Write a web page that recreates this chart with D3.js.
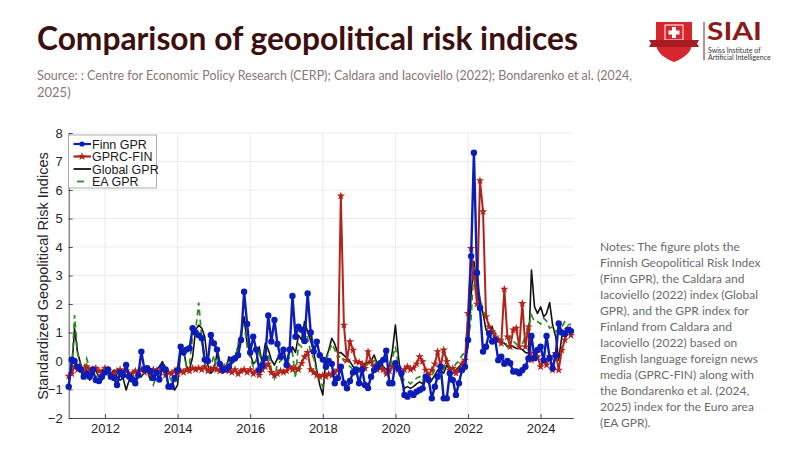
<!DOCTYPE html>
<html>
<head>
<meta charset="utf-8">
<script src="https://cdn.jsdelivr.net/npm/d3@7"></script>
<style>
  body { margin: 0; background: #fff; }
  svg { display: block; }
  .axis text { font-family: "Liberation Sans", Arial, sans-serif; font-size: 13px; fill: #262626; }
  .axis path, .axis line { stroke: #262626; stroke-width: 0.8; }
</style>
</head>
<body>
<svg id="chart" width="800" height="450"></svg>
<script>
// monthly values, Jan 2011 .. Nov 2024 (one row per year)
const finnGpr = [
  -0.9, 0.05, 0.0, -0.2, -0.3, -0.55, -0.45, -0.55, -0.3, -0.67, -0.7, -0.55,
  -0.4, -0.3, -0.55, -0.6, -0.84, -0.4, -0.5, -0.14, -0.55, -0.65, -0.78, -0.5,
  0.33, -0.3, -0.25, -0.35, -0.6, -0.4, -0.65, -0.2, -0.3, -0.9, -0.9, -0.6,
  -0.32, 0.5, 0.3, 0.4, 0.45, 1.15, 1.0, 0.9, 0.8, 0.05, 0.0, 0.91,
  0.62, 0.4, -0.1, -0.3, -0.3, -0.2, 0.05, 0.1, 0.2, 0.74, 2.43, 1.3,
  0.3, 0.85, 0.4, -0.32, -0.15, 0.1, 1.6, 0.68, 1.44, 0.6, 0.15, 0.4,
  -0.14, 0.4, 2.28, 0.85, 1.2, 1.1, 0.7, 2.37, 1.0, 0.33, 0.68, 0.2,
  0.05, -0.2, 0.0, -0.1, -0.78, -0.6, -0.2, -0.78, -0.96, -0.7, -0.4, -0.3,
  -0.78, -0.3, -0.84, -0.95, -0.55, -0.32, -0.2, -0.08, 0.04, 0.36, -0.78, -0.78,
  -0.08, -0.26, -0.43, -1.19, -1.25, -1.13, -1.19, -1.08, -1.02, -0.96, -0.55, -0.67,
  -1.31, -0.9, -0.55, -0.2, -1.31, -1.31, -0.43, -0.67, -1.19, -0.78, -0.32, -0.2,
  0.74, 3.68, 7.31, 3.1, 1.86, 0.33, 0.5, 0.97, 0.68, 0.74, 0.03, 0.15,
  -0.1, 0.0, -0.08, -0.37, -0.37, -0.43, -0.32, -0.2, 0.09, 0.88, 0.1, 0.39,
  0.5, 0.03, 0.88, 0.1, -0.25, 0.2, 1.32, 1.0, 0.95, 1.1, 1.05
];
const gprcFin = [
  -0.53, -0.45, -0.2, -0.3, -0.25, -0.4, -0.2, -0.35, -0.3, -0.25, -0.35, -0.4,
  -0.25, -0.35, -0.55, -0.45, -0.35, -0.3, -0.4, -0.35, -0.5, -0.45, -0.35, -0.4,
  -0.3, -0.4, -0.35, -0.45, -0.3, -0.35, -0.4, -0.3, -0.5, -0.4, -0.45, -0.35,
  -0.45, -0.35, -0.4, -0.3, -0.35, -0.25, -0.3, -0.25, -0.3, -0.2, -0.35, -0.3,
  -0.25, -0.3, -0.35, -0.2, -0.3, -0.35, -0.4, -0.3, -0.45, -0.35, -0.3, -0.4,
  -0.3, -0.45, -0.35, -0.5, -0.3, -0.2, -0.1, -0.4, -0.5, -0.45, -0.35, -0.4,
  -0.35, -0.2, -0.3, -0.25, -0.3, -0.08, 0.15, 0.3, -0.3, -0.4, -0.5, -0.55,
  -0.5, -0.55, -0.45, -0.5, -0.4, -0.32, 5.79, 1.26, 0.03, 0.68, 0.38, -0.02,
  -0.05, -0.1, -0.26, 0.33, -0.02, -0.2, -0.3, -0.25, -0.3, -0.45, -0.35, -0.2,
  -0.2, -0.3, -0.45, -0.3, -0.2, -0.3, -0.25, -0.1, 0.15, -0.02, -0.32, -0.5,
  -0.32, -0.1, 0.33, -0.2, 0.39, -0.02, -0.32, -0.26, -0.43, -0.32, -0.1, 0.03,
  1.67, 3.95, 3.0, 2.0, 6.33, 5.24, 1.56, 1.2, 1.03, 0.85, 0.74, 0.62,
  2.52, 0.85, 0.5, 1.09, 1.15, 0.5, 2.02, 0.5, 1.2, 0.03, 0.27, 0.15,
  -0.2, 0.03, -0.14, 0.15, -0.32, 0.27, -0.32, 0.38, 0.74, 1.1, 0.9
];
const globalGpr = [
  -0.67, -0.3, 1.15, 0.27, -0.08, -0.55, -0.32, -0.67, -0.43, -0.32, -0.55, -0.67,
  -0.32, -0.43, -0.43, -0.32, -0.55, -0.67, -0.6, -1.02, -0.67, -0.55, -0.67, -0.43,
  -0.55, -0.4, -0.32, -0.67, -0.55, -0.3, -0.2, -0.02, -0.35, -0.84, -0.8, -1.02,
  -0.84, 0.38, 0.4, -0.2, -0.3, 0.15, 1.09, 1.26, 1.15, 0.85, -0.14, -0.43,
  -0.32, 0.27, -0.2, -0.43, -0.32, 0.15, -0.1, 0.1, 0.5, 0.97, 1.55, 0.62,
  0.27, -0.1, 0.0, 0.5, -0.1, 0.62, 0.4, 0.04, -0.14, 0.09, 0.1, 0.15,
  -0.08, 0.38, 0.5, 0.3, 0.91, 0.74, 1.38, 1.03, 0.7, 0.33, -0.32, -0.84,
  -1.19, 0.1, 0.38, 0.8, 0.6, 0.27, 0.3, 0.2, 0.1, -0.02, -0.2, -0.25,
  -0.3, -0.2, -0.1, -0.05, 0.0, 0.21, -0.1, 0.0, -0.2, -0.3, -0.2, 0.33,
  1.26, 0.15, -0.67, -0.96, -0.9, -0.96, -0.9, -0.8, -0.73, -0.8, -0.61, -0.78,
  -0.67, -0.49, -0.32, -0.32, -0.43, -0.14, -0.32, -0.43, -0.32, -0.2, -0.08, 0.1,
  0.5, 2.3, 3.5, 2.6, 2.14, 1.67, 1.09, 0.97, 1.2, 0.74, 0.8, 0.7,
  0.62, 0.5, 0.55, 0.5, 0.45, 0.44, 0.4, 0.3, 0.27, 3.19, 1.9, 1.67,
  1.9, 1.55, 1.67, 2.05, 1.26, 0.85, 0.03, 0.85, 1.03, 1.1, 1.2
];
const eaGpr = [
  -0.6, -0.3, 1.61, 0.3, -0.2, -0.3, 0.09, -0.3, -0.5, -0.55, -0.5, -0.3,
  -0.3, -0.45, -0.5, -0.45, -0.35, -0.5, -0.45, -0.55, -0.4, -0.4, -0.3, -0.45,
  -0.5, -0.3, -0.35, -0.5, -0.84, -0.55, -0.35, -0.3, -0.45, -0.5, -0.7, -0.8,
  -0.6, 0.2, 0.3, -0.2, -0.1, 0.9, 1.05, 2.05, 0.8, -0.1, -0.3, -0.2,
  0.2, -0.3, -0.4, -0.3, 0.0, -0.2, -0.1, 0.0, 0.6, 1.0, 1.3, 0.5,
  0.1, -0.2, 0.0, 0.3, -0.2, 0.4, 0.3, -0.3, -0.6, -0.1, 0.0, 0.1,
  -0.2, 0.2, 0.3, -0.6, 0.6, 0.5, 1.1, 0.8, 0.3, 0.1, -0.4, -0.7,
  -0.9, 0.0, 0.3, 0.6, 0.4, 0.1, 0.2, 0.0, -0.1, -0.2, -0.3, -0.3,
  -0.4, -0.3, -0.2, -0.1, -0.2, 0.1, -0.2, -0.1, -0.3, -0.4, -0.3, 0.1,
  0.5, -0.2, -0.5, -0.7, -0.7, -0.8, -0.7, -0.6, -0.55, -0.7, -0.4, -0.6,
  -0.5, -0.3, -0.2, -0.1, -0.3, 0.1, -0.2, -0.3, -0.1, 0.0, 0.2, 0.3,
  0.6, 1.5, 3.3, 2.8, 2.2, 1.79, 1.5, 1.26, 1.1, 1.0, 0.8, 0.74,
  0.74, 0.5, 0.85, 0.7, 0.6, 0.56, 0.6, 0.85, 1.2, 1.61, 1.38, 1.38,
  1.3, 1.5, 1.4, 1.15, 1.2, 1.03, 1.1, 1.2, 1.38, 1.26, 1.3
];

const seriesNames = ["Finn GPR", "GPRC-FIN", "Global GPR", "EA GPR"];
const seriesColors = ["#0b1cb8", "#b3221a", "#111111", "#2e8b1e"];
const yTicks = [-2, -1, 0, 1, 2, 3, 4, 5, 6, 7, 8];
const xTickYears = [2012, 2014, 2016, 2018, 2020, 2022, 2024];

const titleText = "Comparison of geopolitical risk indices";
const sourceLines = [
  "Source: : Centre for Economic Policy Research (CERP); Caldara and Iacoviello (2022); Bondarenko et al. (2024,",
  "2025)"
];
const noteLines = [
  "Notes: The figure plots the",
  "Finnish Geopolitical Risk Index",
  "(Finn GPR), the Caldara and",
  "Iacoviello (2022) index (Global",
  "GPR), and the GPR index for",
  "Finland from Caldara and",
  "Iacoviello (2022) based on",
  "English language foreign news",
  "media (GPRC-FIN) along with",
  "the Bondarenko et al. (2024,",
  "2025) index for the Euro area",
  "(EA GPR)."
];

const svg = d3.select("#chart");
const months = d3.timeMonth.range(new Date(2011, 0, 1), new Date(2024, 11, 1));

// header
svg.append("text")
  .attr("x", 37).attr("y", 50)
  .attr("textLength", 541).attr("lengthAdjust", "spacingAndGlyphs")
  .style("font-family", "Lato, sans-serif").style("font-weight", 700)
  .style("font-size", "32px").style("fill", "#3d1010")
  .text(titleText);

svg.selectAll(".src").data(sourceLines).join("text")
  .attr("class", "src")
  .attr("x", 37).attr("y", (d, i) => 80 + i * 17)
  .attr("textLength", (d, i) => i === 0 ? 595 : null)
  .attr("lengthAdjust", "spacingAndGlyphs")
  .style("font-family", "Lato, sans-serif").style("font-size", "13px")
  .style("fill", "#8a7676")
  .text(d => d);

// logo
const logo = svg.append("g");
logo.append("path")
  .attr("d", "M656,22 L692,22 L692,43 Q692,55 674,62 Q656,55 656,43 Z")
  .attr("fill", "#d7262e");
logo.append("rect").attr("x", 665).attr("y", 25).attr("width", 18).attr("height", 15)
  .attr("fill", "none").attr("stroke", "#fff").attr("stroke-width", 1);
logo.append("rect").attr("x", 672).attr("y", 27).attr("width", 4).attr("height", 11).attr("fill", "#fff");
logo.append("rect").attr("x", 668.5).attr("y", 30.5).attr("width", 11).attr("height", 4).attr("fill", "#fff");
logo.append("path")
  .attr("d", "M649,40 L699,40 L697,43.5 L699,47 L649,47 L651,43.5 Z")
  .attr("fill", "#a81b22");
logo.append("line").attr("x1", 704).attr("x2", 704).attr("y1", 22).attr("y2", 60)
  .attr("stroke", "#8b1a1a").attr("stroke-width", 1);
logo.append("text").attr("x", 707).attr("y", 40)
  .attr("textLength", 55).attr("lengthAdjust", "spacingAndGlyphs")
  .style("font-family", "Lato, sans-serif").style("font-weight", 700).style("font-size", "24px")
  .style("fill", "#8b1a1a").text("SIAI");
logo.append("text").attr("x", 708).attr("y", 53)
  .style("font-family", "Lato, sans-serif").style("font-size", "7px").style("fill", "#333")
  .text("Swiss Institute of");
logo.append("text").attr("x", 708).attr("y", 60)
  .style("font-family", "Lato, sans-serif").style("font-size", "7px").style("fill", "#333")
  .text("Artificial Intelligence");

// notes on the right
svg.append("text")
  .attr("x", 600).attr("y", 251)
  .style("font-family", "Lato, sans-serif").style("font-size", "12px").style("fill", "#6b6b6b")
  .selectAll("tspan").data(noteLines).join("tspan")
  .attr("x", 600).attr("dy", (d, i) => i === 0 ? 0 : 16)
  .text(d => d);

// chart
const x = d3.scaleTime()
  .domain([new Date(2011, 0, 1), new Date(2024, 10, 25)])
  .range([68.7, 573.3]);
const y = d3.scaleLinear().domain([-2, 8]).range([418, 133]);

const grid = svg.append("g");
grid.selectAll(".gy").data(yTicks).join("line")
  .attr("x1", x.range()[0]).attr("x2", x.range()[1])
  .attr("y1", d => y(d)).attr("y2", d => y(d))
  .attr("stroke", "#ebebeb").attr("stroke-width", 1);
grid.selectAll(".gx").data(xTickYears).join("line")
  .attr("x1", d => x(new Date(d, 0, 1))).attr("x2", d => x(new Date(d, 0, 1)))
  .attr("y1", y(-2)).attr("y2", y(8))
  .attr("stroke", "#ebebeb").attr("stroke-width", 1);

svg.append("g").attr("class", "axis")
  .attr("transform", `translate(${x.range()[0]},0)`)
  .call(d3.axisLeft(y).tickValues(yTicks).tickFormat(d3.format("d"))
    .tickSizeInner(-4).tickSizeOuter(0).tickPadding(6));
svg.append("g").attr("class", "axis")
  .attr("transform", `translate(0,${y(-2)})`)
  .call(d3.axisBottom(x).tickValues(xTickYears.map(v => new Date(v, 0, 1)))
    .tickFormat(d3.timeFormat("%Y"))
    .tickSizeInner(-4).tickSizeOuter(0).tickPadding(6));

svg.append("text")
  .attr("transform", "translate(48,276) rotate(-90)")
  .attr("text-anchor", "middle")
  .style("font-family", "Liberation Sans, Arial, sans-serif").style("font-size", "14.5px")
  .style("fill", "#262626")
  .text("Standardized Geopolitical Risk Indices");

const line = d3.line().x((d, i) => x(months[i])).y(d => y(d));

// black and green under, red, then blue on top
svg.append("path").datum(globalGpr).attr("d", line)
  .attr("fill", "none").attr("stroke", seriesColors[2]).attr("stroke-width", 1.6)
  .attr("stroke-linejoin", "round");
svg.append("path").datum(eaGpr).attr("d", line)
  .attr("fill", "none").attr("stroke", seriesColors[3]).attr("stroke-width", 1.7)
  .attr("stroke-dasharray", "6,4");

svg.append("path").datum(gprcFin).attr("d", line)
  .attr("fill", "none").attr("stroke", seriesColors[1]).attr("stroke-width", 2)
  .attr("stroke-linejoin", "round");
const star = d3.symbol().type(d3.symbolStar).size(22);
svg.append("g").selectAll("path").data(gprcFin).join("path")
  .attr("transform", (d, i) => `translate(${x(months[i])},${y(d)})`)
  .attr("d", star).attr("fill", seriesColors[1]);

svg.append("path").datum(finnGpr).attr("d", line)
  .attr("fill", "none").attr("stroke", seriesColors[0]).attr("stroke-width", 2.4)
  .attr("stroke-linejoin", "round");
svg.append("g").selectAll("circle").data(finnGpr).join("circle")
  .attr("cx", (d, i) => x(months[i])).attr("cy", d => y(d))
  .attr("r", 3.2).attr("fill", seriesColors[0]);

// legend
const lg = svg.append("g");
lg.append("rect").attr("x", 68.5).attr("y", 135).attr("width", 88).attr("height", 53)
  .attr("fill", "#fff").attr("stroke", "#9a9a9a").attr("stroke-width", 0.8);
const legendY = [144, 156.5, 169, 181.5];
seriesNames.forEach((name, i) => {
  const ly = legendY[i];
  if (i === 3) {
    lg.append("line").attr("x1", 77).attr("x2", 84).attr("y1", ly).attr("y2", ly)
      .attr("stroke", seriesColors[3]).attr("stroke-width", 1.8);
  } else {
    lg.append("line").attr("x1", 73.5).attr("x2", 91).attr("y1", ly).attr("y2", ly)
      .attr("stroke", seriesColors[i]).attr("stroke-width", i === 2 ? 1.8 : 2.2);
  }
  if (i === 0) {
    lg.append("circle").attr("cx", 82).attr("cy", ly).attr("r", 2.6).attr("fill", seriesColors[0]);
  }
  if (i === 1) {
    lg.append("path").attr("transform", `translate(82,${ly})`).attr("d", star).attr("fill", seriesColors[1]);
  }
  lg.append("text").attr("x", 92).attr("y", ly + 4.5)
    .style("font-family", "Liberation Sans, Arial, sans-serif").style("font-size", "12.5px")
    .style("fill", "#1a1a1a")
    .text(name);
});
</script>
</body>
</html>
